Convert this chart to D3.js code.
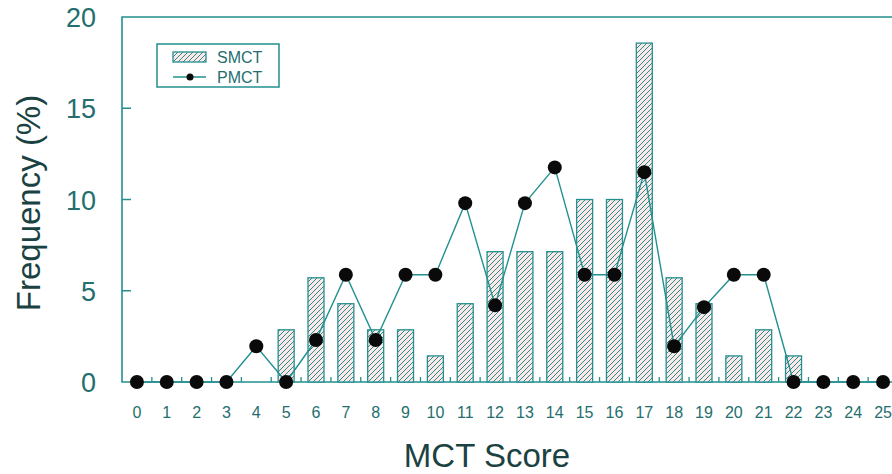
<!DOCTYPE html>
<html>
<head>
<meta charset="utf-8">
<script src="https://cdn.jsdelivr.net/npm/d3@7"></script>
<style>
  body { margin: 0; background: #fff; }
  svg { display: block; font-family: "Liberation Sans", Arial, sans-serif; }
</style>
</head>
<body>
<svg id="chart"></svg>
<script>
// MCT score categories and frequencies (%)
var scores = [0,1,2,3,4,5,6,7,8,9,10,11,12,13,14,15,16,17,18,19,20,21,22,23,24,25];
var smct = [0,0,0,0,0,2.86,5.71,4.29,2.86,2.86,1.43,4.29,7.14,7.14,7.14,10,10,18.57,5.71,4.29,1.43,2.86,1.43,0,0,0];
var pmct = [0,0,0,0,1.96,0,2.3,5.88,2.3,5.88,5.88,9.8,4.2,9.8,11.76,5.88,5.88,11.5,1.96,4.1,5.88,5.88,0,0,0,0];
var yTicks = [0,5,10,15,20];
var seriesNames = ["SMCT","PMCT"];

var width = 892, height = 474;
var lineCol = "#23908f", textCol = "#246e6e", titleCol = "#1b4242";

var svg = d3.select("#chart").attr("width", width).attr("height", height);

var x = d3.scaleLinear().domain([-0.5, 25.5]).range([122, 898]);
var y = d3.scaleLinear().domain([0, 20]).range([382, 17]);

// hatch pattern for bars
var defs = svg.append("defs");
var pat = defs.append("pattern")
  .attr("id", "hatch")
  .attr("patternUnits", "userSpaceOnUse")
  .attr("width", 5).attr("height", 5);
pat.append("rect").attr("width", 5).attr("height", 5).attr("fill", "#fde7e7");
pat.append("path")
  .attr("d", "M0,5L5,0M-1,1L1,-1M4,6L6,4")
  .attr("stroke", lineCol).attr("stroke-width", 1);

// frame (top, left, bottom; right side runs off the picture)
var frameTop = y(20), frameBottom = y(0), frameLeft = x(-0.5);
svg.append("path")
  .attr("d", "M" + width + "," + frameTop + "H" + frameLeft + "V" + frameBottom + "H" + width)
  .attr("fill", "none").attr("stroke", lineCol).attr("stroke-width", 1.6);

// y ticks + labels
svg.append("g").selectAll("line")
  .data(yTicks.filter(function(d) { return d > 0 && d < 20; }))
.enter().append("line")
  .attr("x1", frameLeft).attr("x2", frameLeft + 9)
  .attr("y1", function(d) { return y(d); }).attr("y2", function(d) { return y(d); })
  .attr("stroke", lineCol).attr("stroke-width", 1.5);

svg.append("g").selectAll("text")
  .data(yTicks)
.enter().append("text")
  .attr("x", 96).attr("y", function(d) { return y(d) + 10; })
  .attr("text-anchor", "end")
  .attr("font-size", 27)
  .attr("fill", textCol)
  .text(function(d) { return d; });

// x minor ticks at half-integers
svg.append("g").selectAll("line")
  .data(scores.slice(0, -1))
.enter().append("line")
  .attr("x1", function(d) { return x(d + 0.5); }).attr("x2", function(d) { return x(d + 0.5); })
  .attr("y1", frameBottom).attr("y2", frameBottom - 5)
  .attr("stroke", lineCol).attr("stroke-width", 1.3);

// x tick labels
svg.append("g").selectAll("text")
  .data(scores)
.enter().append("text")
  .attr("x", function(d) { return x(d); }).attr("y", 418)
  .attr("text-anchor", "middle")
  .attr("font-size", 16)
  .attr("fill", textCol)
  .text(function(d) { return d; });

// bars (SMCT)
var barW = 16;
svg.append("g").selectAll("rect")
  .data(scores.filter(function(d, i) { return smct[i] > 0; }))
.enter().append("rect")
  .attr("x", function(d) { return x(d) - barW / 2; })
  .attr("y", function(d) { return y(smct[d]); })
  .attr("width", barW)
  .attr("height", function(d) { return y(0) - y(smct[d]); })
  .attr("fill", "url(#hatch)")
  .attr("stroke", lineCol).attr("stroke-width", 1.3);

// line + dots (PMCT)
var line = d3.line()
  .x(function(d) { return x(d); })
  .y(function(d, i) { return y(pmct[i]); });

svg.append("path")
  .datum(scores)
  .attr("d", line)
  .attr("fill", "none").attr("stroke", lineCol).attr("stroke-width", 1.4);

svg.append("g").selectAll("circle")
  .data(scores)
.enter().append("circle")
  .attr("cx", function(d) { return x(d); })
  .attr("cy", function(d, i) { return y(pmct[i]); })
  .attr("r", 7)
  .attr("fill", "#0a0a0a");

// legend
var lg = svg.append("g");
lg.append("rect")
  .attr("x", 157).attr("y", 44).attr("width", 122).attr("height", 43)
  .attr("fill", "#fff").attr("stroke", lineCol).attr("stroke-width", 1.5);
lg.append("rect")
  .attr("x", 173).attr("y", 52).attr("width", 33).attr("height", 10)
  .attr("fill", "url(#hatch)").attr("stroke", lineCol).attr("stroke-width", 1.3);
lg.append("line")
  .attr("x1", 173).attr("x2", 206).attr("y1", 77).attr("y2", 77)
  .attr("stroke", lineCol).attr("stroke-width", 1.3);
lg.append("circle").attr("cx", 190).attr("cy", 77).attr("r", 3.5).attr("fill", "#0a0a0a");
lg.selectAll("text")
  .data(seriesNames)
.enter().append("text")
  .attr("x", 217).attr("y", function(d, i) { return 63 + i * 20; })
  .attr("font-size", 16)
  .attr("fill", textCol)
  .text(function(d) { return d; });

// axis titles
svg.append("text")
  .attr("x", 487).attr("y", 467)
  .attr("text-anchor", "middle")
  .attr("font-size", 33)
  .attr("fill", titleCol)
  .text("MCT Score");

svg.append("text")
  .attr("transform", "translate(40,203) rotate(-90)")
  .attr("text-anchor", "middle")
  .attr("font-size", 33)
  .attr("fill", titleCol)
  .text("Frequency (%)");
</script>
</body>
</html>
